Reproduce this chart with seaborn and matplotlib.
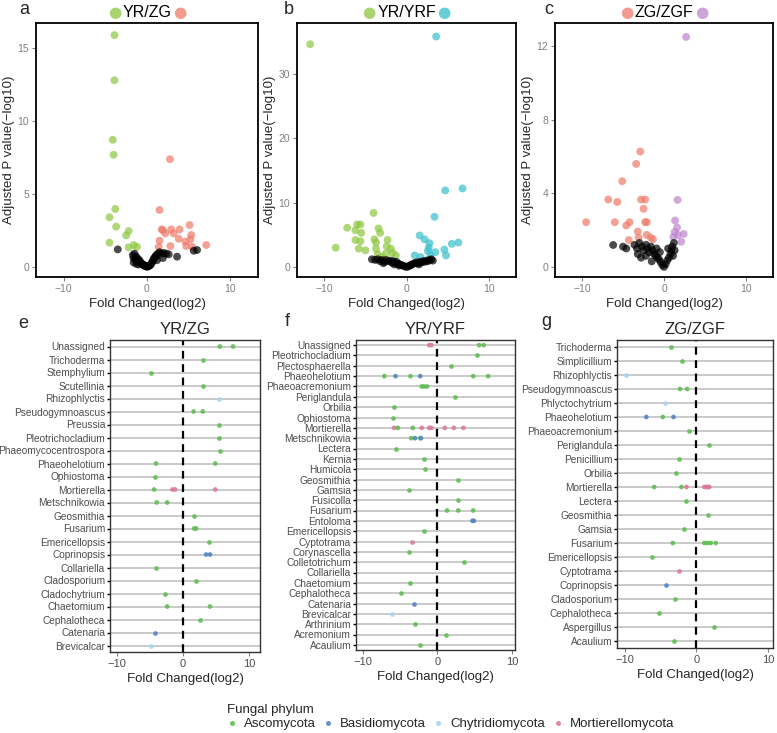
import matplotlib
matplotlib.use("Agg")
import matplotlib.pyplot as plt
import seaborn as sns
import pandas as pd
from matplotlib.lines import Line2D
from matplotlib.offsetbox import TextArea, HPacker, AnchoredOffsetbox

# ---------------- volcano data (fold change, -log10 p) ----------------
a_down = [(-3.9, 15.87), (-3.9, 12.78), (-4.1, 8.7), (-4.0, 7.67), (-3.8, 3.96), (-4.5, 3.39),
          (-3.7, 2.75), (-2.2, 2.45), (-2.5, 2.15), (-4.5, 1.65), (-2.2, 1.33), (-1.6, 1.49), (-1.2, 1.37)]
a_up = [(2.76, 7.37), (1.5, 3.89), (1.76, 2.56), (1.9, 2.5), (2.9, 2.56), (3.9, 2.56), (5.1, 2.86),
        (2.2, 2.29), (3.2, 2.29), (5.3, 2.18), (5.2, 1.88), (3.8, 1.92), (1.5, 1.79), (4.6, 1.72),
        (4.7, 1.42), (7.1, 1.49), (2.8, 1.42), (1.4, 1.37), (5.4, 1.37)]
a_ns = [(-3.5, 1.19), (3.6, 0.69), (5.6, 1.1), (6.0, 1.15), (-1.7, 0.8), (-1.6, 0.6), (-1.5, 0.9),
        (-1.4, 0.5), (-1.3, 0.7), (-1.2, 0.4), (-1.1, 0.55), (-1.0, 0.35), (-0.9, 0.45), (-0.8, 0.3),
        (-0.7, 0.25), (-0.6, 0.2), (-0.5, 0.15), (-0.4, 0.12), (-0.3, 0.08), (-0.2, 0.05), (-0.1, 0.03),
        (0.0, 0.0), (0.1, 0.02), (0.2, 0.05), (0.3, 0.08), (0.4, 0.12), (0.5, 0.2), (0.6, 0.3),
        (0.7, 0.4), (0.8, 0.55), (0.9, 0.6), (1.0, 0.7), (1.1, 0.8), (1.3, 0.9), (1.5, 1.0), (1.7, 0.9),
        (2.0, 0.95), (2.3, 0.9), (2.6, 0.85), (-1.6, 0.3), (-1.3, 0.2), (-1.0, 0.15), (1.2, 0.45), (1.9, 0.6)]

b_down = [(-11.7, 34.6), (-4.0, 8.4), (-6.0, 6.6), (-5.6, 6.6), (-7.2, 6.1), (-6.2, 5.7), (-5.5, 5.3),
          (-3.4, 6.0), (-3.2, 5.3), (-3.9, 4.3), (-3.7, 3.8), (-6.2, 4.2), (-5.6, 4.0), (-2.3, 4.2),
          (-8.6, 3.0), (-5.8, 2.85), (-5.0, 2.6), (-3.7, 2.85), (-2.4, 3.2), (-3.5, 2.0), (-1.9, 2.85),
          (-1.7, 2.2), (-2.5, 2.1), (-1.3, 1.8), (-3.0, 1.55)]
b_up = [(3.6, 35.8), (6.8, 12.2), (4.7, 11.9), (3.4, 7.8), (1.6, 4.9), (2.2, 4.3), (2.8, 3.7),
        (2.7, 3.0), (5.5, 3.6), (6.3, 3.8), (4.6, 2.7), (4.8, 1.8), (2.6, 2.5), (3.5, 2.3),
        (1.0, 1.8), (1.7, 1.55), (2.9, 1.8)]
b_ns = [(-4.2, 1.2), (-3.8, 1.1), (-3.5, 1.2), (-3.2, 0.9), (-3.0, 1.1), (-2.7, 0.8), (-2.5, 1.1),
        (-2.2, 0.9), (-2.0, 1.0), (-1.8, 0.7), (-1.6, 0.9), (-1.4, 0.6), (-1.2, 0.8), (-1.0, 0.5),
        (-0.8, 0.4), (-0.6, 0.3), (-0.4, 0.2), (-0.2, 0.1), (0.0, 0.0), (0.2, 0.1), (0.4, 0.2),
        (0.6, 0.35), (0.8, 0.5), (1.0, 0.6), (1.2, 0.7), (1.4, 0.6), (1.6, 0.8), (1.8, 0.7), (2.0, 0.9),
        (2.2, 0.8), (2.4, 1.0), (2.6, 0.9), (2.8, 1.1), (3.0, 1.2), (3.2, 1.0), (-2.8, 0.6),
        (-1.5, 0.4), (0.5, 0.3), (1.5, 0.4), (-0.9, 0.2)]

c_down = [(-9.5, 2.43), (-6.8, 3.66), (-5.7, 3.53), (-5.1, 4.66), (-3.4, 5.6), (-2.9, 6.27),
          (-2.8, 3.66), (-2.3, 3.66), (-2.5, 3.16), (-6.0, 2.43), (-4.2, 2.43), (-4.6, 2.25),
          (-2.3, 2.43), (-2.1, 2.43), (-3.2, 1.92), (-4.3, 1.46), (-3.1, 1.59), (-2.1, 1.74),
          (-1.6, 1.59), (-1.35, 1.5)]
c_up = [(2.7, 12.5), (1.65, 3.64), (1.35, 2.52), (1.6, 2.14), (2.4, 1.79), (1.7, 1.74),
        (1.15, 1.63), (2.1, 1.37), (1.3, 1.9)]
c_ns = [(-6.2, 1.19), (-5.0, 1.1), (-4.6, 1.0), (-3.3, 1.0), (-3.6, 1.2), (-3.0, 1.3), (-2.7, 1.1),
        (-2.5, 0.9), (-2.2, 1.2), (-2.0, 1.0), (-1.8, 0.8), (-1.6, 1.1), (-1.4, 0.9), (-1.2, 0.7),
        (-1.0, 0.6), (-0.9, 1.0), (-0.8, 0.5), (-0.6, 0.4), (-0.5, 0.8), (-0.4, 0.25), (-0.2, 0.1),
        (0.0, 0.0), (0.2, 0.15), (0.4, 0.35), (0.6, 0.5), (0.8, 0.7), (0.9, 0.9), (1.0, 1.1),
        (1.2, 1.3), (1.3, 0.9), (-2.8, 0.5), (-2.2, 0.6), (-1.5, 0.3), (-3.2, 0.7), (0.5, 1.0), (1.1, 0.6)]

# ---------------- genus level dot data ----------------
phyla = ["Ascomycota", "Basidiomycota", "Chytridiomycota", "Mortierellomycota"]
codes = {"A": "Ascomycota", "B": "Basidiomycota", "C": "Chytridiomycota", "M": "Mortierellomycota"}

e_order = ["Unassigned", "Trichoderma", "Stemphylium", "Scutellinia", "Rhizophlyctis",
           "Pseudogymnoascus", "Preussia", "Pleotrichocladium", "Phaeomycocentrospora",
           "Phaeohelotium", "Ophiostoma", "Mortierella", "Metschnikowia", "Geosmithia", "Fusarium",
           "Emericellopsis", "Coprinopsis", "Collariella", "Cladosporium", "Cladochytrium",
           "Chaetomium", "Cephalotheca", "Catenaria", "Brevicalcar"]
e_points = [("Unassigned", 5.6, "A"), ("Unassigned", 7.6, "A"), ("Trichoderma", 3.0, "A"),
            ("Stemphylium", -4.8, "A"), ("Scutellinia", 3.1, "A"), ("Rhizophlyctis", 5.5, "C"),
            ("Pseudogymnoascus", 1.6, "A"), ("Pseudogymnoascus", 3.0, "A"), ("Preussia", 5.4, "A"),
            ("Pleotrichocladium", 5.4, "A"), ("Phaeomycocentrospora", 5.6, "A"),
            ("Phaeohelotium", -4.1, "A"), ("Phaeohelotium", 4.9, "A"), ("Ophiostoma", -4.3, "A"),
            ("Mortierella", -4.4, "A"), ("Mortierella", -1.6, "M"), ("Mortierella", -1.2, "M"),
            ("Mortierella", 4.9, "M"), ("Metschnikowia", -4.0, "A"), ("Metschnikowia", -2.4, "A"),
            ("Geosmithia", 1.6, "A"), ("Fusarium", 1.7, "A"), ("Fusarium", 2.0, "A"),
            ("Emericellopsis", 4.0, "A"), ("Coprinopsis", 3.5, "B"), ("Coprinopsis", 4.1, "B"),
            ("Collariella", -4.1, "A"), ("Cladosporium", 2.0, "A"), ("Cladochytrium", -2.7, "A"),
            ("Chaetomium", -2.4, "A"), ("Chaetomium", 4.1, "A"), ("Cephalotheca", 2.6, "A"),
            ("Catenaria", -4.2, "B"), ("Brevicalcar", -4.8, "C")]

f_order = ["Unassigned", "Pleotrichocladium", "Plectosphaerella", "Phaeohelotium", "Phaeoacremonium",
           "Periglandula", "Orbilia", "Ophiostoma", "Mortierella", "Metschnikowia", "Lectera", "Kernia",
           "Humicola", "Geosmithia", "Gamsia", "Fusicolla", "Fusarium", "Entoloma", "Emericellopsis",
           "Cyptotrama", "Corynascella", "Colletotrichum", "Collariella", "Chaetomium", "Cephalotheca",
           "Catenaria", "Brevicalcar", "Arthrinium", "Acremonium", "Acaulium"]
f_points = [("Unassigned", -1.1, "M"), ("Unassigned", -0.8, "M"), ("Unassigned", 5.6, "A"),
            ("Unassigned", 6.2, "A"), ("Pleotrichocladium", 5.3, "A"), ("Plectosphaerella", 1.8, "A"),
            ("Phaeohelotium", -7.1, "A"), ("Phaeohelotium", -5.6, "B"), ("Phaeohelotium", -3.6, "A"),
            ("Phaeohelotium", -2.3, "B"), ("Phaeohelotium", 4.8, "A"), ("Phaeohelotium", 6.8, "A"),
            ("Phaeoacremonium", -2.1, "A"), ("Phaeoacremonium", -1.8, "A"), ("Phaeoacremonium", -1.4, "A"),
            ("Periglandula", 2.3, "A"), ("Orbilia", -5.8, "A"), ("Ophiostoma", -6.0, "A"),
            ("Mortierella", -5.8, "M"), ("Mortierella", -5.3, "A"), ("Mortierella", -3.3, "A"),
            ("Mortierella", -2.1, "M"), ("Mortierella", -1.1, "M"), ("Mortierella", -0.8, "M"),
            ("Mortierella", 1.0, "M"), ("Mortierella", 2.2, "M"), ("Mortierella", 3.5, "M"),
            ("Metschnikowia", -3.5, "A"), ("Metschnikowia", -3.0, "B"), ("Metschnikowia", -2.3, "A"),
            ("Metschnikowia", -2.2, "B"), ("Lectera", -5.6, "A"), ("Kernia", -1.8, "A"),
            ("Humicola", -1.6, "A"), ("Geosmithia", 2.8, "A"), ("Gamsia", -3.8, "A"),
            ("Fusicolla", 2.7, "A"), ("Fusarium", 1.3, "A"), ("Fusarium", 2.8, "A"), ("Fusarium", 4.8, "A"),
            ("Entoloma", 4.7, "B"), ("Entoloma", 4.9, "B"), ("Emericellopsis", -1.8, "A"),
            ("Cyptotrama", -3.4, "M"), ("Corynascella", -3.8, "A"), ("Colletotrichum", 3.6, "A"),
            ("Chaetomium", -3.6, "A"), ("Cephalotheca", -4.9, "A"), ("Catenaria", -3.1, "B"),
            ("Brevicalcar", -6.1, "C"), ("Arthrinium", -3.0, "A"), ("Acremonium", 1.1, "A"),
            ("Acaulium", -2.3, "A")]

g_order = ["Trichoderma", "Simplicillium", "Rhizophlyctis", "Pseudogymnoascus", "Phlyctochytrium",
           "Phaeohelotium", "Phaeoacremonium", "Periglandula", "Penicillium", "Orbilia", "Mortierella",
           "Lectera", "Geosmithia", "Gamsia", "Fusarium", "Emericellopsis", "Cyptotrama", "Coprinopsis",
           "Cladosporium", "Cephalotheca", "Aspergillus", "Acaulium"]
g_points = [("Trichoderma", -3.5, "A"), ("Simplicillium", -2.0, "A"), ("Rhizophlyctis", -9.8, "C"),
            ("Pseudogymnoascus", -2.3, "A"), ("Pseudogymnoascus", -1.3, "A"), ("Phlyctochytrium", -4.4, "C"),
            ("Phaeohelotium", -7.0, "B"), ("Phaeohelotium", -4.7, "A"), ("Phaeohelotium", -3.2, "B"),
            ("Phaeoacremonium", -1.1, "A"), ("Periglandula", 1.7, "A"), ("Penicillium", -2.5, "A"),
            ("Orbilia", -2.9, "A"), ("Mortierella", -5.9, "A"), ("Mortierella", -2.1, "A"),
            ("Mortierella", -1.4, "M"), ("Mortierella", 1.1, "M"), ("Mortierella", 1.4, "M"),
            ("Mortierella", 1.6, "M"), ("Mortierella", 1.8, "M"), ("Lectera", -1.5, "A"),
            ("Geosmithia", 1.6, "A"), ("Gamsia", -1.7, "A"), ("Fusarium", -3.3, "A"), ("Fusarium", 1.1, "A"),
            ("Fusarium", 1.5, "A"), ("Fusarium", 2.0, "A"), ("Fusarium", 2.7, "A"),
            ("Emericellopsis", -6.2, "A"), ("Cyptotrama", -2.5, "M"), ("Coprinopsis", -4.3, "B"),
            ("Cladosporium", -3.0, "A"), ("Cephalotheca", -5.2, "A"), ("Aspergillus", 2.4, "A"),
            ("Acaulium", -3.2, "A")]

# colours
col_yr = "#8CC63F"
col_zg = "#F07A68"
col_yrf = "#35BFCA"
col_zgf = "#BE84CC"
phylum_pal = {"Ascomycota": "#62BE55", "Basidiomycota": "#5686C2",
              "Chytridiomycota": "#A6D3F3", "Mortierellomycota": "#DC7C98"}

sns.set_style("white")
plt.rcParams["font.family"] = ["Liberation Sans", "DejaVu Sans"]

fig = plt.figure(figsize=(7.77, 7.33), dpi=100)


def px_axes(l, t, r, b):
    return fig.add_axes([l / 777, 1 - b / 733, (r - l) / 777, (b - t) / 733])


def volcano(ax, down, up, ns, c_down, c_up, title, ylim, yticks):
    df = pd.concat([
        pd.DataFrame(down, columns=["fc", "p"]).assign(grp="down"),
        pd.DataFrame(up, columns=["fc", "p"]).assign(grp="up"),
        pd.DataFrame(ns, columns=["fc", "p"]).assign(grp="ns"),
    ])
    sns.scatterplot(data=df, x="fc", y="p", hue="grp",
                    palette={"down": c_down, "up": c_up, "ns": "black"},
                    s=32, alpha=0.7, linewidth=0, legend=False, ax=ax)
    ax.set_xlim(-13.3, 13.3)
    ax.set_ylim(*ylim)
    ax.set_xticks([-10, 0, 10])
    ax.set_yticks(yticks)
    ax.set_xlabel("Fold Changed(log2)", fontsize=9.5, labelpad=3)
    ax.set_ylabel("Adjusted P value(\u2212log10)", fontsize=9.5, labelpad=2)
    ax.tick_params(bottom=True, left=True, length=3, width=0.8, color="#808080",
                   labelcolor="#808080", labelsize=7.5, pad=2)
    for s in ax.spines.values():
        s.set_color("black")
        s.set_linewidth(1.3)
    box = HPacker(children=[
        TextArea("\u25cf", textprops=dict(color=c_down, alpha=0.75, fontsize=11, family="DejaVu Sans")),
        TextArea(title, textprops=dict(color="black", fontsize=11.5)),
        TextArea("\u25cf", textprops=dict(color=c_up, alpha=0.75, fontsize=11, family="DejaVu Sans")),
    ], align="baseline", pad=0, sep=1)
    ab = AnchoredOffsetbox(loc="lower center", child=box, pad=0, borderpad=0, frameon=False,
                           bbox_to_anchor=(0.5, 1.01), bbox_transform=ax.transAxes)
    ax.add_artist(ab)


def dotpanel(ax, order, points, title, xlim):
    df = pd.DataFrame(points, columns=["genus", "fc", "phylum"])
    df["phylum"] = df["phylum"].map(codes)
    sns.stripplot(data=df, x="fc", y="genus", order=order, hue="phylum", hue_order=phyla,
                  palette=phylum_pal, jitter=False, size=3.4, linewidth=0, alpha=0.9,
                  legend=False, ax=ax, zorder=3)
    ax.yaxis.grid(True, color="#C6C6C6", lw=1.3)
    ax.xaxis.grid(False)
    ax.set_axisbelow(True)
    ax.axvline(0, color="black", lw=1.6, ls=(0, (3.5, 2.5)), zorder=2)
    ax.set_xlim(*xlim)
    ax.set_ylim(len(order) - 0.5, -0.5)
    ax.set_xticks([-10, 0, 10])
    ax.set_xlabel("Fold Changed(log2)", fontsize=9.5, labelpad=3)
    ax.set_ylabel("")
    ax.set_title(title, fontsize=12, pad=4)
    ax.tick_params(axis="y", left=True, length=2.5, width=1, color="black",
                   labelcolor="#4D4D4D", labelsize=7.3, pad=1)
    ax.tick_params(axis="x", bottom=True, length=3, width=0.8, color="#808080",
                   labelcolor="#4D4D4D", labelsize=8, pad=2)
    for s in ax.spines.values():
        s.set_color("#333333")
        s.set_linewidth(1.0)


ax_a = px_axes(36, 23, 258, 277)
ax_b = px_axes(297, 23, 516, 277)
ax_c = px_axes(555, 23, 773, 277)
volcano(ax_a, a_down, a_up, a_ns, col_yr, col_zg, "YR/ZG", (-0.7, 16.7), [0, 5, 10, 15])
volcano(ax_b, b_down, b_up, b_ns, col_yr, col_yrf, "YR/YRF", (-1.55, 37.9), [0, 10, 20, 30])
volcano(ax_c, c_down, c_up, c_ns, col_zg, col_zgf, "ZG/ZGF", (-0.55, 13.26), [0, 4, 8, 12])

ax_e = px_axes(110, 340, 260, 652)
ax_f = px_axes(356, 340, 515, 650)
ax_g = px_axes(617, 340, 773, 648)
dotpanel(ax_e, e_order, e_points, "YR/ZG", (-11.1, 11.7))
dotpanel(ax_f, f_order, f_points, "YR/YRF", (-10.9, 10.4))
dotpanel(ax_g, g_order, g_points, "ZG/ZGF", (-11.1, 10.7))

for letter, x, y in [("a", 24, 10), ("b", 289, 9), ("c", 549, 10),
                     ("e", 23, 323), ("f", 287, 322), ("g", 546, 322)]:
    fig.text(x / 777, 1 - y / 733, letter, fontsize=13, ha="center", va="center")

handles = [Line2D([], [], ls="", marker="o", markersize=3.6, markeredgewidth=0,
                  color=phylum_pal[p], alpha=0.9) for p in phyla]
fig.legend(handles, phyla, loc="upper left", bbox_to_anchor=(216 / 777, 1 - 693 / 733),
           ncol=4, frameon=False, title="Fungal phylum", fontsize=9.5, title_fontsize=9.5,
           handlelength=0.8, handletextpad=0.5, columnspacing=0.55, alignment="left",
           borderpad=0.3, labelspacing=0.2)

fig.savefig("out.png", dpi=100)
